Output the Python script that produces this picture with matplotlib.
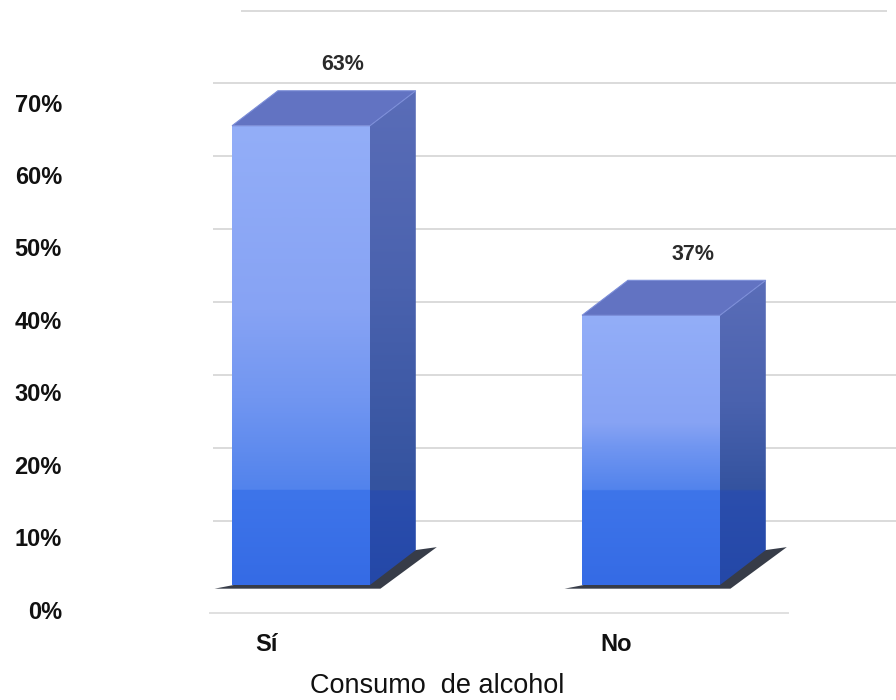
import numpy as np
import matplotlib.pyplot as plt
from matplotlib.colors import LinearSegmentedColormap

categories = ["Sí", "No"]
values = [63, 37]
value_labels = ["63%", "37%"]
tick_values = [0, 10, 20, 30, 40, 50, 60, 70]
tick_labels = ["0%", "10%", "20%", "30%", "40%", "50%", "60%", "70%"]
grid_values = [10, 20, 30, 40, 50, 60, 70, 80]
x_title = "Consumo  de alcohol"

plt.rcParams["font.family"] = ["Liberation Sans Narrow", "Liberation Sans", "DejaVu Sans"]

# fake 3d geometry (data units)
BAR_W = 0.394
DX = 0.131
DY = 4.8
BAND = 13  # height of the darker lower band on the bars


def grad_fill(ax, patch, stops, extent, z):
    # stops: list of (fraction, colour) from bottom to top
    cmap = LinearSegmentedColormap.from_list("g", stops)
    img = ax.imshow(np.linspace(0, 1, 512).reshape(-1, 1), cmap=cmap,
                    extent=extent, origin="lower", aspect="auto",
                    zorder=z, interpolation="bilinear")
    img.set_clip_path(patch)


fig = plt.figure(figsize=(8.96, 7.0), dpi=100)
ax = fig.add_axes([0, 0, 1, 1])
ax.axis("off")

# back wall grid lines
for g in grid_values:
    x0, x1 = (-0.17, 1.67) if g == grid_values[-1] else (-0.25, 1.70)
    ax.plot([x0, x1], [g - 1.2, g - 1.2], color="#dadada", lw=1.4, zorder=1)

# floor front edge
ax.plot([-0.26, 1.39], [-3.84, -3.84], color="#e0e0e0", lw=1.4, zorder=1)

for i, v in enumerate(values):
    xl, xr = i - BAR_W / 2, i + BAR_W / 2
    fb = BAND / v

    # dark shadow on the floor
    shadow = plt.Polygon([(xl - 0.05, -0.5), (xr + 0.03, -0.5),
                          (xr + DX + 0.06, DY + 0.4), (xr + DX, DY)],
                         closed=True, facecolor="#141a28", alpha=0.85,
                         edgecolor="none", zorder=2)
    ax.add_patch(shadow)

    front = ax.bar(i, v, width=BAR_W, color="none", edgecolor="none", zorder=3)[0]
    grad_fill(ax, front,
              [(0, "#356be5"), (fb - 0.002, "#3e75ea"),
               (fb, "#5283ec"), (fb + 0.25 * (1 - fb), "#7196f1"),
               (0.6, "#87a3f4"), (1, "#93aef8")],
              (xl, xr, 0, v), 3)

    side = plt.Polygon([(xr, 0), (xr + DX, DY), (xr + DX, v + DY), (xr, v)],
                       closed=True, facecolor="none", edgecolor="none", zorder=3)
    ax.add_patch(side)
    fs = BAND / (v + DY)
    grad_fill(ax, side,
              [(0, "#2448a8"), (fs - 0.002, "#2b4ead"),
               (fs, "#34539f"), (0.6, "#4a62ae"), (1, "#5a6db8")],
              (xr, xr + DX, 0, v + DY), 3)

    top = plt.Polygon([(xl, v), (xr, v), (xr + DX, v + DY), (xl + DX, v + DY)],
                      closed=True, facecolor="#6273c2", edgecolor="#7b8dd8",
                      lw=0.8, zorder=4)
    ax.add_patch(top)

    ax.text(i + 0.12, v + DY + 3.6, value_labels[i], ha="center", va="center",
            fontsize=15.5, fontweight="bold", color="#2a2a2a")
    ax.text(i - 0.10, -8.2, categories[i], ha="center", va="center",
            fontsize=17, fontweight="bold", color="#111111")

for t, lab in zip(tick_values, tick_labels):
    ax.text(-0.683, t * 0.9935 - 3.7, lab, ha="right", va="center",
            fontsize=17, fontweight="bold", color="#111111")

ax.text(0.389, -13.9, x_title, ha="center", va="center",
        fontsize=19.5, color="#111111")

ax.set_xlim(-0.86, 1.70)
ax.set_ylim(-15.77, 80.25)

fig.savefig("out.png", dpi=100)
